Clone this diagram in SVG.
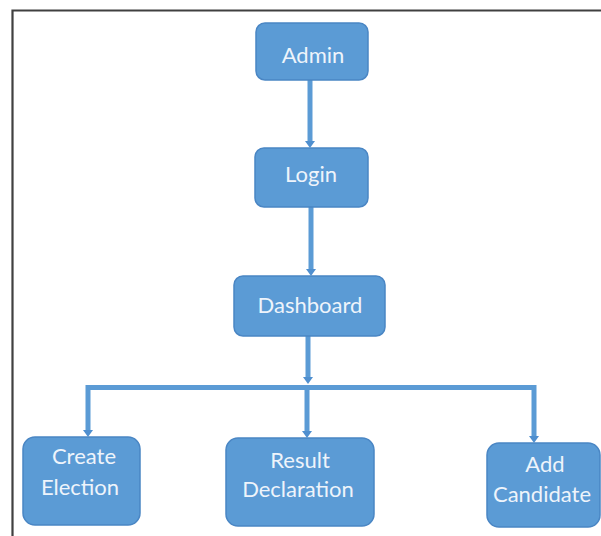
<svg xmlns="http://www.w3.org/2000/svg" width="601" height="536" viewBox="0 0 601 536">
  <defs>
    <style>
      .node rect { fill: #5b9bd5; stroke: #4a86c4; stroke-width: 1.5; }
      .node text { fill: #eef4fb; font-family: Lato, "Open Sans", "Liberation Sans", sans-serif; font-size: 22px; text-anchor: middle; }
      .link { fill: none; stroke: #5b9bd5; stroke-width: 5; }
      .edge { fill: none; stroke: #4a86c4; stroke-width: 1; }
      .head { fill: #4f8fcf; }
    </style>
  </defs>

  <rect x="0" y="0" width="601" height="536" fill="#ffffff"/>
  <!-- outer frame (open at right and bottom) -->
  <path d="M12.5,536 L12.5,10.5 L601,10.5" fill="none" stroke="#404040" stroke-width="2.2"/>

  <g id="connectors">
    <path class="link" d="M310,80 V142"/>
    <path class="link" d="M311,207 V270"/>
    <path class="link" d="M308,336 V378"/>
    <path class="link" d="M88,431 V387.5 H534 V437"/>
    <path class="link" d="M307,388 V432"/>
    <path class="head" d="M305,141 L315,141 L310,148 Z"/>
    <path class="head" d="M306,269 L316,269 L311,276 Z"/>
    <path class="head" d="M303,377 L313,377 L308,384 Z"/>
    <path class="head" d="M83,430 L93,430 L88,437 Z"/>
    <path class="head" d="M302,431 L312,431 L307,438 Z"/>
    <path class="head" d="M529,436 L539,436 L534,443 Z"/>
  </g>

  <g id="admin" class="node">
    <rect x="256" y="23" width="112" height="57" rx="9"/>
    <text x="313" y="63">Admin</text>
  </g>
  <g id="login" class="node">
    <rect x="255" y="148" width="113" height="59" rx="9"/>
    <text x="311" y="182">Login</text>
  </g>
  <g id="dashboard" class="node">
    <rect x="234" y="276" width="151" height="60" rx="9"/>
    <text x="310" y="313">Dashboard</text>
  </g>
  <g id="create-election" class="node">
    <rect x="23" y="437" width="117" height="88" rx="12"/>
    <text x="84" y="464">Create</text>
    <text x="80" y="495">Election</text>
  </g>
  <g id="result-declaration" class="node">
    <rect x="226" y="438" width="148" height="88" rx="12"/>
    <text x="300" y="468">Result</text>
    <text x="298" y="497">Declaration</text>
  </g>
  <g id="add-candidate" class="node">
    <rect x="487" y="443" width="113" height="84" rx="12"/>
    <text x="545" y="472">Add</text>
    <text x="542" y="502">Candidate</text>
  </g>
</svg>
